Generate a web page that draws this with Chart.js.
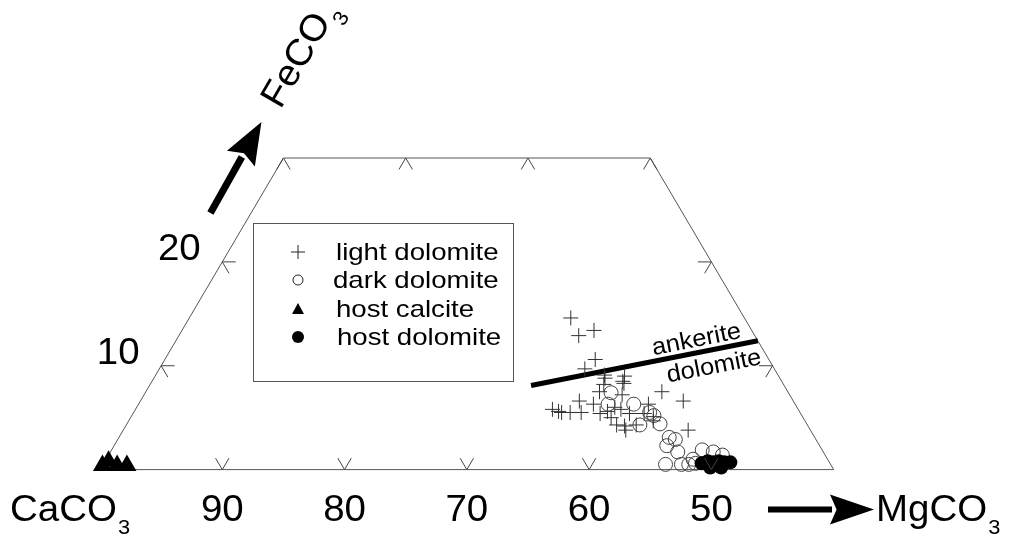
<!DOCTYPE html>
<html>
<head>
<meta charset="utf-8">
<script src="https://cdn.jsdelivr.net/npm/chart.js@4.4.0/dist/chart.umd.min.js"></script>
<style>
  html, body { margin: 0; padding: 0; background: #fff; }
  #wrap { width: 1009px; height: 542px; }
</style>
</head>
<body>
<div id="wrap"><canvas id="ternary" width="1009" height="542"></canvas></div>
<script>
// compositions are mol% CaCO3 and FeCO3, MgCO3 is what is left over
const frameCa = [100, 70, 40, 40, 100];
const frameFe = [0, 30, 30, 0, 0];

// ankerite / dolomite boundary
const boundaryCa = [60.7, 40.0];
const boundaryFe = [8.1, 12.4];

const lightDolomiteCa = [54.2, 54.4, 52.9, 54.2, 55.5, 54.2, 54.7, 52.6, 53.0, 50.3,
                         49.0, 59.7, 58.8, 57.5, 56.5, 55.7, 55.7, 54.5, 55.6, 55.0,
                         52.0, 52.8, 52.4, 50.0, 55.4, 53.7, 60.1, 56.4, 54.0, 54.0,
                         57.9, 59.5, 54.9, 52.2, 54.3, 53.0, 55.1];
const lightDolomiteFe = [14.6, 12.9, 13.4, 10.6, 9.7, 9.1, 8.2, 9.0, 8.3, 7.5,
                         6.6, 5.6, 5.5, 6.6, 6.3, 5.6, 5.0, 5.8, 4.3, 4.2,
                         6.3, 5.4, 4.7, 3.8, 7.5, 7.2, 5.8, 5.4, 5.4, 4.3,
                         5.5, 5.5, 6.0, 5.1, 8.8, 8.5, 3.8];

const darkDolomiteCa = [54.5, 55.3, 53.2, 52.3, 53.7, 52.0, 52.1, 51.9, 51.5, 52.5,
                        51.9, 53.5, 52.2, 51.0, 51.6, 51.0, 49.8, 49.0, 49.3, 48.4];
const darkDolomiteFe = [7.4, 6.3, 6.3, 5.5, 4.3, 4.4, 5.2, 3.1, 2.9, 2.3,
                        1.7, 0.5, 0.5, 1.0, 0.5, 0.6, 1.9, 1.7, 0.5, 1.4];

const hostCalciteCa = [99.6, 98.9, 98.4, 97.6];
const hostCalciteFe = [0.4, 0.8, 0.4, 0.4];

const hostDolomiteCa = [50.5, 49.9, 49.5, 49.0, 48.6, 48.1, 50.0, 49.1];
const hostDolomiteFe = [0.6, 0.8, 0.7, 0.8, 0.7, 0.7, 0.2, 0.2];

// tick positions
const bottomTicksCa = [90, 80, 70, 60, 50];
const bottomLabels = ['90', '80', '70', '60', '50'];
const topTicksCa = [70, 60, 50, 40];
const sideTicksFe = [10, 20];
const sideLabels = ['10', '20'];

const legendLabels = ['light dolomite', 'dark dolomite', 'host calcite', 'host dolomite'];

const SIN60 = Math.sqrt(3) / 2;
const FONT = '"Liberation Sans", Arial, Helvetica, sans-serif';

function toXY(ca, fe) {
    return { x: 100 - ca - fe / 2, y: fe * SIN60 };
}

function points(caList, feList) {
    return caList.map((ca, i) => toXY(ca, feList[i]));
}

// text squeezed a little wider than the plain font
function wideText(ctx, text, x, y, sx) {
    ctx.save();
    ctx.translate(x, y);
    ctx.scale(sx, 1);
    ctx.fillText(text, 0, 0);
    ctx.restore();
}

function drawChem(ctx, base, sub, x, y, size, sx) {
    sx = sx || 1;
    ctx.textAlign = 'left';
    ctx.textBaseline = 'alphabetic';
    ctx.font = size + 'px ' + FONT;
    const w = ctx.measureText(base).width * sx;
    wideText(ctx, base, x, y, sx);
    ctx.font = Math.round(size * 0.58) + 'px ' + FONT;
    wideText(ctx, sub, x + w + 1, y + size * 0.36, sx);
}

function arrow(ctx, x1, y1, x2, y2, width, headLen, headHalf) {
    const a = Math.atan2(y2 - y1, x2 - x1);
    const bx = x2 - Math.cos(a) * headLen;
    const by = y2 - Math.sin(a) * headLen;
    ctx.save();
    ctx.strokeStyle = '#000';
    ctx.fillStyle = '#000';
    ctx.lineWidth = width;
    ctx.beginPath();
    ctx.moveTo(x1, y1);
    ctx.lineTo(bx + Math.cos(a) * 2, by + Math.sin(a) * 2);
    ctx.stroke();
    ctx.beginPath();
    ctx.moveTo(x2, y2);
    ctx.lineTo(bx + Math.sin(a) * headHalf, by - Math.cos(a) * headHalf);
    ctx.lineTo(bx + Math.cos(a) * headLen * 0.15, by + Math.sin(a) * headLen * 0.15);
    ctx.lineTo(bx - Math.sin(a) * headHalf, by + Math.cos(a) * headHalf);
    ctx.closePath();
    ctx.fill();
    ctx.restore();
}

function legendSymbol(ctx, kind, x, y) {
    ctx.save();
    ctx.strokeStyle = '#222';
    ctx.fillStyle = '#000';
    ctx.lineWidth = 1;
    ctx.beginPath();
    if (kind === 0) {
        ctx.moveTo(x - 7, y); ctx.lineTo(x + 7, y);
        ctx.moveTo(x, y - 7); ctx.lineTo(x, y + 7);
        ctx.stroke();
    } else if (kind === 1) {
        ctx.arc(x, y, 5, 0, Math.PI * 2);
        ctx.stroke();
    } else if (kind === 2) {
        ctx.moveTo(x, y - 6); ctx.lineTo(x + 6, y + 5); ctx.lineTo(x - 6, y + 5);
        ctx.closePath();
        ctx.fill();
    } else {
        ctx.arc(x, y, 6, 0, Math.PI * 2);
        ctx.fill();
    }
    ctx.restore();
}

const decorations = {
    id: 'decorations',
    afterDatasetsDraw(chart) {
        const ctx = chart.ctx;
        const xs = chart.scales.x;
        const ys = chart.scales.y;
        const px = (ca, fe) => {
            const p = toXY(ca, fe);
            return [xs.getPixelForValue(p.x), ys.getPixelForValue(p.y)];
        };
        // tick marks are the first unit of the two grid lines entering the field
        const tickLen = 1.1;
        const seg = (ca, fe, dx, dy) => {
            const p = toXY(ca, fe);
            ctx.moveTo(xs.getPixelForValue(p.x), ys.getPixelForValue(p.y));
            ctx.lineTo(xs.getPixelForValue(p.x + dx * tickLen), ys.getPixelForValue(p.y + dy * tickLen));
        };
        ctx.save();
        ctx.strokeStyle = '#444';
        ctx.lineWidth = 1;
        ctx.beginPath();
        bottomTicksCa.forEach(ca => { seg(ca, 0, -0.5, SIN60); seg(ca, 0, 0.5, SIN60); });
        topTicksCa.forEach(ca => { seg(ca, 30, -0.5, -SIN60); seg(ca, 30, 0.5, -SIN60); });
        sideTicksFe.forEach(fe => {
            seg(100 - fe, fe, 1, 0); seg(100 - fe, fe, 0.5, -SIN60);
            seg(40, fe, -1, 0); seg(40, fe, -0.5, -SIN60);
        });
        ctx.stroke();
        ctx.restore();

        ctx.save();
        ctx.fillStyle = '#000';
        // axis numbers
        ctx.font = '37px ' + FONT;
        ctx.textAlign = 'center';
        ctx.textBaseline = 'alphabetic';
        bottomTicksCa.forEach((ca, i) => {
            const [x, y] = px(ca, 0);
            wideText(ctx, bottomLabels[i], x, y + 51, 1.04);
        });
        sideTicksFe.forEach((fe, i) => {
            const [x, y] = px(100 - fe, fe);
            wideText(ctx, sideLabels[i], x - 43, y - 2, 1.04);
        });

        // end members
        const [cx, cy] = px(100, 0);
        drawChem(ctx, 'CaCO', '3', cx - 90, cy + 51, 37, 1.04);
        drawChem(ctx, 'MgCO', '3', 876, cy + 51, 37, 1.04);
        arrow(ctx, 768, cy + 40, 874, cy + 40, 6, 44, 15);

        const [tx, ty] = px(70, 30);
        arrow(ctx, tx - 73, ty + 55, tx - 22, ty - 36, 7, 42, 16);
        ctx.save();
        ctx.translate(tx - 3, ty - 48);
        ctx.rotate(-Math.PI / 3);
        drawChem(ctx, 'FeCO', '3', 0, 0, 37, 1.04);
        ctx.restore();

        // labels either side of the boundary line
        const [b1x, b1y] = px(boundaryCa[0], boundaryFe[0]);
        const [b2x, b2y] = px(boundaryCa[1], boundaryFe[1]);
        const ang = Math.atan2(b2y - b1y, b2x - b1x);
        ctx.font = '24px ' + FONT;
        ctx.save();
        ctx.translate(b2x - 60 * Math.cos(ang), b2y - 60 * Math.sin(ang));
        ctx.rotate(ang);
        ctx.textAlign = 'center';
        ctx.textBaseline = 'alphabetic';
        wideText(ctx, 'ankerite', 0, -6, 1.06);
        ctx.textBaseline = 'top';
        wideText(ctx, 'dolomite', 12, 5, 1.06);
        ctx.restore();

        // legend box
        ctx.strokeStyle = '#555';
        ctx.lineWidth = 1;
        ctx.strokeRect(253.5, 223.5, 260, 158);
        ctx.font = '24px ' + FONT;
        ctx.textAlign = 'left';
        ctx.textBaseline = 'middle';
        const rows = [252, 280, 309, 337];
        const textX = [336, 333, 336, 337];
        legendLabels.forEach((label, i) => {
            legendSymbol(ctx, i, 298, rows[i]);
            ctx.fillStyle = '#000';
            wideText(ctx, label, textX[i], rows[i] + 1, 1.15);
        });
        ctx.restore();
    }
};

new Chart(document.getElementById('ternary'), {
    type: 'scatter',
    data: {
        datasets: [
            {
                label: 'host dolomite',
                data: points(hostDolomiteCa, hostDolomiteFe),
                pointStyle: 'circle',
                pointRadius: 7,
                backgroundColor: '#000',
                borderColor: '#000',
                borderWidth: 0,
                order: 0
            },
            {
                label: 'host calcite',
                data: points(hostCalciteCa, hostCalciteFe),
                pointStyle: 'triangle',
                pointRadius: 11,
                backgroundColor: '#000',
                borderColor: '#000',
                borderWidth: 0,
                order: 1
            },
            {
                label: 'dark dolomite',
                data: points(darkDolomiteCa, darkDolomiteFe),
                pointStyle: 'circle',
                pointRadius: 7,
                backgroundColor: 'rgba(0,0,0,0)',
                borderColor: '#444',
                borderWidth: 1,
                order: 2
            },
            {
                label: 'light dolomite',
                data: points(lightDolomiteCa, lightDolomiteFe),
                pointStyle: 'cross',
                pointRadius: 7.5,
                borderColor: '#333',
                borderWidth: 1,
                order: 3
            },
            {
                label: 'ankerite-dolomite',
                data: points(boundaryCa, boundaryFe),
                showLine: true,
                borderColor: '#000',
                borderWidth: 5,
                pointRadius: 0,
                order: 4
            },
            {
                label: 'frame',
                data: points(frameCa, frameFe),
                showLine: true,
                borderColor: '#555',
                borderWidth: 1,
                pointRadius: 0,
                order: 5
            }
        ]
    },
    options: {
        responsive: false,
        animation: false,
        devicePixelRatio: 1,
        layout: { padding: 0 },
        scales: {
            x: { type: 'linear', min: -7.28, max: 73.44, display: false },
            y: { type: 'linear', min: -5.12, max: 38.24, display: false }
        },
        plugins: {
            legend: { display: false },
            tooltip: { enabled: false }
        },
        elements: { line: { tension: 0 } }
    },
    plugins: [decorations]
});
</script>
</body>
</html>
